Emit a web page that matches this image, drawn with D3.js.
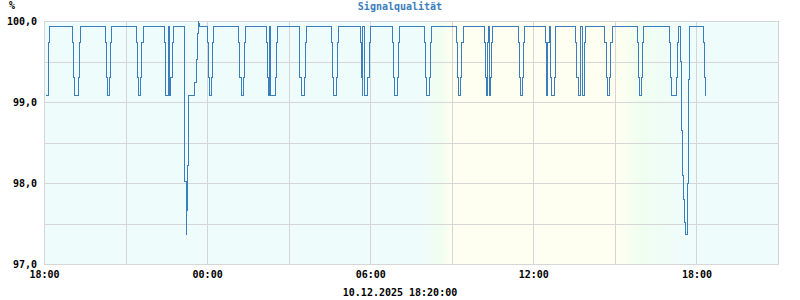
<!DOCTYPE html>
<html>
<head>
<meta charset="utf-8">
<script src="https://cdn.jsdelivr.net/npm/d3@7"></script>
<style>
  body { margin: 0; background: #fff; }
  text { font-family: "DejaVu Sans Mono", monospace; font-weight: bold; font-size: 10px; }
</style>
</head>
<body>
<script>
const w = 800;
const h = 300;
const plot = { left: 44, right: 778, top: 21, bottom: 264 };

// sample times (09.12. 18:04 ... 10.12. 18:20) and signal quality in %
const times = [
  "18:04", "18:09", "18:11", "18:13",
  "19:04", "19:06", "19:08", "19:16", "19:18", "19:20",
  "20:16", "20:19", "20:20", "20:24", "20:27", "20:30",
  "21:24", "21:27", "21:29", "21:34", "21:36", "21:39",
  "22:26", "22:28", "22:29", "22:34", "22:36", "22:38", "22:40", "22:43", "22:45",
  "23:09", "23:11", "23:14", "23:15", "23:16", "23:18", "23:20", "23:33", "23:36", "23:38", "23:40", "23:42", "23:44",
  "00:00", "00:03", "00:05", "00:09", "00:12", "00:15",
  "01:09", "01:12", "01:15", "01:20", "01:23", "01:24",
  "02:12", "02:14", "02:15", "02:18", "02:21", "02:32", "02:33", "02:35",
  "03:23", "03:25", "03:28", "03:35", "03:37", "03:39",
  "04:35", "04:37", "04:39", "04:46", "04:48", "04:50",
  "05:38", "05:40", "05:42", "05:44", "05:47", "05:55", "05:58", "06:00",
  "06:49", "06:51", "06:54", "07:00", "07:02", "07:04",
  "07:59", "08:01", "08:04", "08:11", "08:13", "08:16",
  "09:11", "09:13", "09:15", "09:20", "09:22", "09:25",
  "10:12", "10:14", "10:16", "10:18", "10:20", "10:23", "10:26", "10:28", "10:30",
  "11:27", "11:29", "11:31", "11:36", "11:38", "11:40",
  "12:26", "12:28", "12:30", "12:32", "12:35", "12:37", "12:39", "12:46", "12:48", "12:50",
  "13:34", "13:36", "13:39", "13:43", "13:45", "13:48", "13:52", "13:54", "13:56",
  "14:38", "14:41", "14:43", "14:48", "14:50", "14:54",
  "15:49", "15:52", "15:54", "15:59", "16:01", "16:03",
  "17:00", "17:02", "17:05", "17:17", "17:19", "17:20", "17:25", "17:27", "17:29", "17:31", "17:33", "17:35", "17:40", "17:42", "17:44",
  "18:15", "18:18", "18:20"
];
const quality = [
  99.08, 99.30, 99.73, 99.93,
  99.73, 99.30, 99.08, 99.30, 99.73, 99.93,
  99.73, 99.30, 99.08, 99.30, 99.73, 99.93,
  99.73, 99.30, 99.08, 99.30, 99.73, 99.93,
  99.73, 99.30, 99.08, 99.93, 99.30, 99.08, 99.30, 99.73, 99.93,
  99.30, 98.02, 97.37, 97.66, 98.22, 98.79, 99.08, 99.24, 99.53, 99.84, 100.00, 99.97, 99.93,
  99.73, 99.30, 99.08, 99.30, 99.73, 99.93,
  99.73, 99.30, 99.08, 99.30, 99.73, 99.93,
  99.73, 99.30, 99.08, 99.93, 99.08, 99.30, 99.73, 99.93,
  99.73, 99.30, 99.08, 99.30, 99.73, 99.93,
  99.73, 99.30, 99.08, 99.30, 99.73, 99.93,
  99.73, 99.30, 99.08, 99.93, 99.08, 99.30, 99.73, 99.93,
  99.73, 99.30, 99.08, 99.30, 99.73, 99.93,
  99.73, 99.30, 99.08, 99.30, 99.73, 99.93,
  99.73, 99.30, 99.08, 99.30, 99.73, 99.93,
  99.73, 99.30, 99.08, 99.73, 99.93, 99.08, 99.30, 99.73, 99.93,
  99.73, 99.30, 99.08, 99.30, 99.73, 99.93,
  99.73, 99.30, 99.08, 99.73, 99.93, 99.30, 99.08, 99.30, 99.73, 99.93,
  99.73, 99.30, 99.08, 99.73, 99.93, 99.08, 99.30, 99.73, 99.93,
  99.73, 99.30, 99.08, 99.30, 99.73, 99.93,
  99.73, 99.30, 99.08, 99.30, 99.73, 99.93,
  99.73, 99.30, 99.08, 99.30, 99.73, 99.93, 99.50, 98.65, 98.09, 97.80, 97.51, 97.37, 98.00, 99.28, 99.93,
  99.73, 99.30, 99.08
];

const yTicks = [97, 98, 99, 100];
const yGrid = [97, 97.5, 98, 98.5, 99, 99.5, 100];
const xLabels = ["2025-12-09 18:00", "2025-12-10 00:00", "2025-12-10 06:00", "2025-12-10 12:00", "2025-12-10 18:00"];
const xGrid = ["2025-12-09 21:00", "2025-12-10 00:00", "2025-12-10 03:00", "2025-12-10 06:00", "2025-12-10 09:00",
  "2025-12-10 12:00", "2025-12-10 15:00", "2025-12-10 18:00"];
// daylight shading: night -> twilight -> day -> twilight -> night
const lightTimes = ["2025-12-10 07:55", "2025-12-10 08:35", "2025-12-10 09:00", "2025-12-10 15:05", "2025-12-10 15:55", "2025-12-10 17:35"];
const title = "Signalqualität";
const stamp = "10.12.2025 18:20:00";

const parse = d3.timeParse("%Y-%m-%d %H:%M");

let day = 9;
let prev = "";
const data = times.map((t, i) => {
  if (t < prev) day += 1;
  prev = t;
  return { date: parse(`2025-12-${String(day).padStart(2, "0")} ${t}`), value: quality[i] };
});

const xScale = d3.scaleTime()
  .domain([parse("2025-12-09 18:00"), parse("2025-12-10 21:00")])
  .range([plot.left, plot.right]);
const yScale = d3.scaleLinear().domain([97, 100]).range([plot.bottom, plot.top]);

const svg = d3.select("body")
  .append("svg")
  .attr("width", w)
  .attr("height", h);

const grad = svg.append("defs").append("linearGradient")
  .attr("id", "daylight")
  .attr("gradientUnits", "userSpaceOnUse")
  .attr("x1", plot.left).attr("x2", plot.right)
  .attr("y1", 0).attr("y2", 0);

const night = "#effcfc", dusk = "#f0fef0", noon = "#fefff0";
const lightColors = [night, dusk, noon, noon, dusk, night];
grad.selectAll("stop")
  .data(lightTimes)
  .enter()
  .append("stop")
  .attr("offset", (d) => (xScale(parse(d)) - plot.left) / (plot.right - plot.left))
  .attr("stop-color", (d, i) => lightColors[i]);

svg.append("rect")
  .attr("x", plot.left)
  .attr("y", plot.top)
  .attr("width", plot.right - plot.left)
  .attr("height", plot.bottom - plot.top)
  .attr("fill", "url(#daylight)");

// grid
const gx = svg.append("g")
  .attr("transform", `translate(0,${plot.bottom})`)
  .call(d3.axisBottom(xScale).tickValues(xGrid.map(parse)).tickSize(-(plot.bottom - plot.top)).tickFormat(""));
const gy = svg.append("g")
  .attr("transform", `translate(${plot.left},0)`)
  .call(d3.axisLeft(yScale).tickValues(yGrid).tickSize(-(plot.right - plot.left)).tickFormat(""));
[gx, gy].forEach((g) => {
  g.select(".domain").remove();
  g.selectAll("line").attr("stroke", "#d6d6d6").attr("shape-rendering", "crispEdges");
});

svg.append("rect")
  .attr("x", plot.left + 0.5)
  .attr("y", plot.top + 0.5)
  .attr("width", plot.right - plot.left)
  .attr("height", plot.bottom - plot.top)
  .attr("fill", "none")
  .attr("stroke", "#d6d6d6");

// labels
const ax = svg.append("g")
  .attr("transform", `translate(0,${plot.bottom})`)
  .call(d3.axisBottom(xScale).tickValues(xLabels.map(parse)).tickSize(0).tickPadding(7).tickFormat(d3.timeFormat("%H:%M")));
const ay = svg.append("g")
  .attr("transform", `translate(${plot.left},0)`)
  .call(d3.axisLeft(yScale).tickValues(yTicks).tickSize(0).tickPadding(7).tickFormat((d) => d.toFixed(1).replace(".", ",")));
[ax, ay].forEach((g) => {
  g.select(".domain").remove();
  g.selectAll("text").attr("fill", "#000").style("font-size", "10px").style("font-family", "'DejaVu Sans Mono', monospace");
});

const line = d3.line()
  .x((d) => xScale(d.date))
  .y((d) => yScale(d.value))
  .curve(d3.curveStepAfter);

svg.append("path")
  .datum(data)
  .attr("d", line)
  .attr("fill", "none")
  .attr("stroke", "#3b7ebd")
  .attr("stroke-width", 1)
  .attr("shape-rendering", "crispEdges");

svg.append("text")
  .attr("x", w / 2)
  .attr("y", 9.5)
  .attr("text-anchor", "middle")
  .attr("fill", "#3b7ebd")
  .text(title);

svg.append("text")
  .attr("x", 9)
  .attr("y", 9)
  .attr("fill", "#000")
  .text("%");

svg.append("text")
  .attr("x", w / 2)
  .attr("y", 296)
  .attr("text-anchor", "middle")
  .attr("fill", "#000")
  .text(stamp);
</script>
</body>
</html>
